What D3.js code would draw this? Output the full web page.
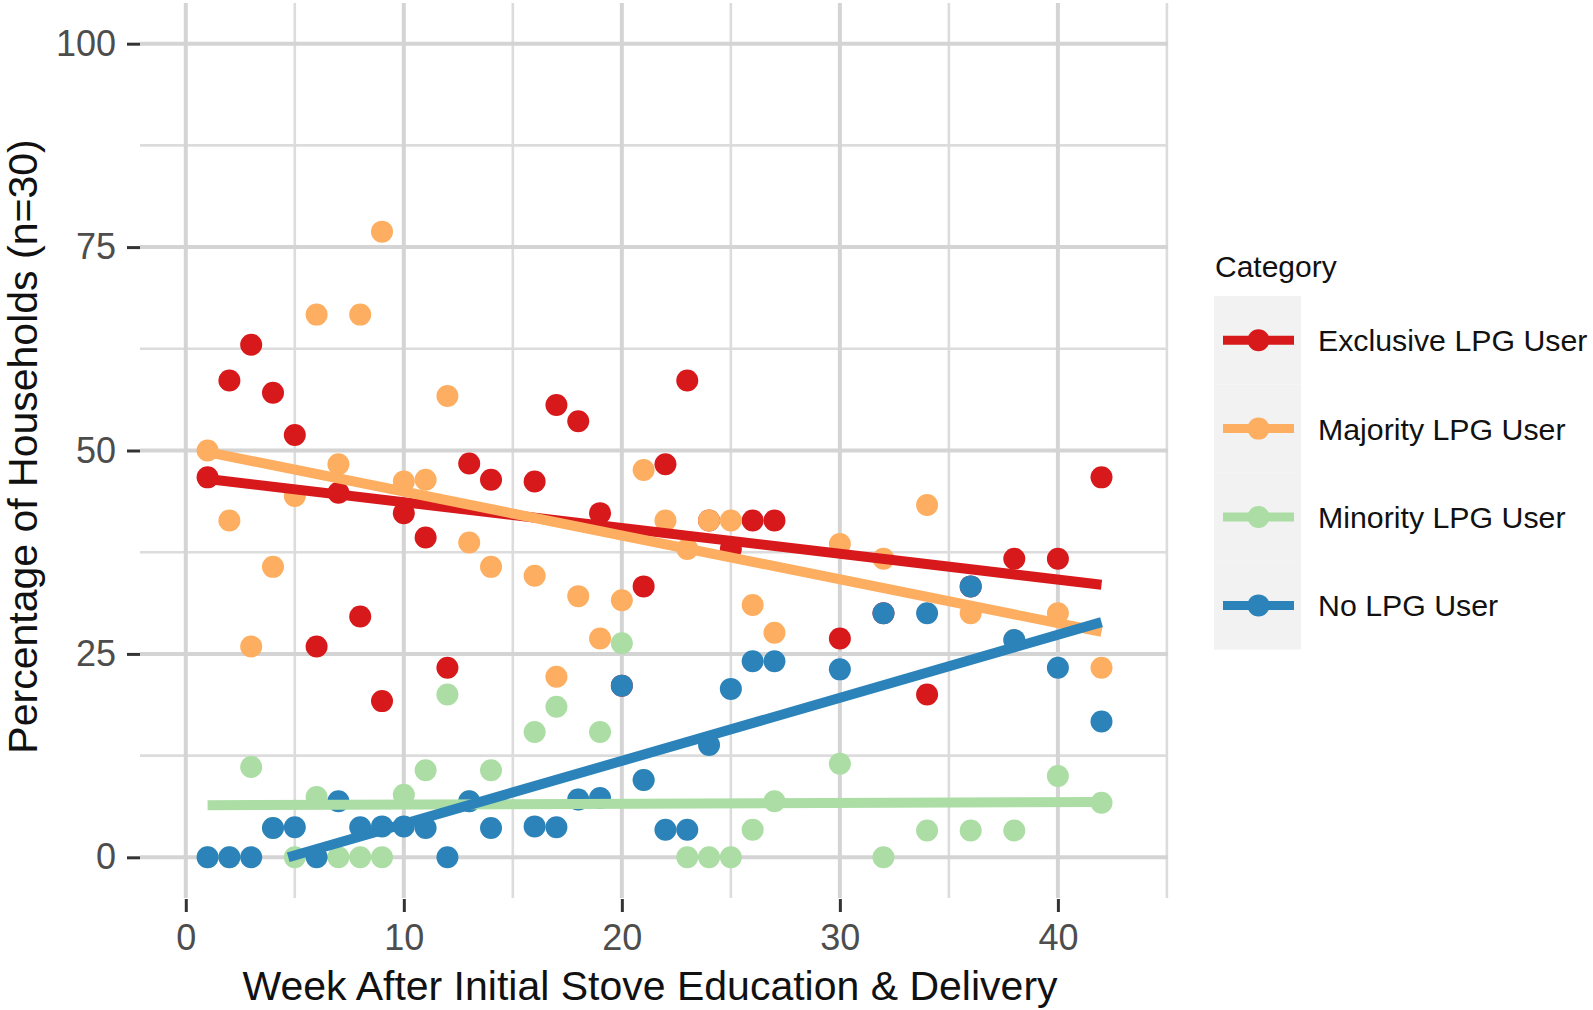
<!DOCTYPE html>
<html><head><meta charset="utf-8">
<script src="https://cdn.jsdelivr.net/npm/d3@7"></script>
<style>
body{margin:0;background:#fff}
svg text{font-family:"Liberation Sans",Arial,Helvetica,sans-serif}
</style>
</head><body>
<svg id="chart" width="1593" height="1010"></svg>
<script>
// ---- data ----
const weeks = [1,2,3,4,5,6,7,8,9,10,11,12,13,14,16,17,18,19,20,21,22,23,24,25,26,27,30,32,34,36,38,40,42];
const exclusive = [46.7,58.6,63.0,57.1,51.9,25.9,44.8,29.6,19.2,42.3,39.3,23.3,48.4,46.4,46.2,55.6,53.6,42.3,21.1,33.3,48.3,58.6,41.4,37.9,41.4,41.4,26.9,30.0,20.0,33.3,36.7,36.7,46.7];
const majority  = [50.0,41.4,25.9,35.7,44.4,66.7,48.3,66.7,76.9,46.2,46.4,56.7,38.7,35.7,34.6,22.2,32.1,26.9,31.6,47.6,41.4,37.9,41.4,41.4,31.0,27.6,38.5,36.7,43.3,30.0,26.7,30.0,23.3];
const minority  = [0,0,11.1,3.6,0,7.4,0,0,0,7.7,10.7,20.0,6.9,10.7,15.4,18.5,7.1,15.4,26.3,9.5,null,0,0,0,3.4,6.9,11.5,0,3.3,3.3,3.3,10.0,6.7];
const noLpg     = [0,0,0,3.6,3.7,0,6.9,3.7,3.8,3.8,3.6,0,6.9,3.6,3.8,3.7,7.1,7.3,21.1,9.5,3.4,3.4,13.8,20.7,24.1,24.1,23.1,30.0,30.0,33.3,26.7,23.3,16.7];
const categories = ["Exclusive LPG User","Majority LPG User","Minority LPG User","No LPG User"];
const colors = ["#d7191c","#fdae61","#abdda4","#2b83ba"];
// fitted linear trend end points
const fitStartWeek = [1,1,1,4.7];
const fitStartPct  = [46.5,49.8,6.4,0];
const fitEndWeek   = [42,42,42,42];
const fitEndPct    = [33.5,27.7,6.8,28.9];
const xMajor = [0,10,20,30,40], xMinor = [5,15,25,35,45];
const yMajor = [0,25,50,75,100], yMinor = [12.5,37.5,62.5,87.5];
const xTitle = "Week After Initial Stove Education & Delivery";
const yTitle = "Percentage of Households (n=30)";
const legendTitle = "Category";

const seriesValues = [exclusive, majority, minority, noLpg];

const svg = d3.select("#chart");
const P = {l:140, r:1168, t:3, b:898};
const x = d3.scaleLinear().domain([-2.1,45.05]).range([P.l,P.r]);
const y = d3.scaleLinear().domain([-5,105]).range([P.b,P.t]);

// grid
const grid = svg.append("g");
grid.selectAll(".vmin").data(xMinor).join("line")
  .attr("x1",d=>x(d)).attr("x2",d=>x(d)).attr("y1",P.t).attr("y2",P.b)
  .attr("stroke","#dcdcdc").attr("stroke-width",2.6);
grid.selectAll(".hmin").data(yMinor).join("line")
  .attr("y1",d=>y(d)).attr("y2",d=>y(d)).attr("x1",P.l).attr("x2",P.r)
  .attr("stroke","#dcdcdc").attr("stroke-width",2.6);
grid.selectAll(".vmaj").data(xMajor).join("line")
  .attr("x1",d=>x(d)).attr("x2",d=>x(d)).attr("y1",P.t).attr("y2",P.b)
  .attr("stroke","#d4d4d4").attr("stroke-width",4);
grid.selectAll(".hmaj").data(yMajor).join("line")
  .attr("y1",d=>y(d)).attr("y2",d=>y(d)).attr("x1",P.l).attr("x2",P.r)
  .attr("stroke","#d4d4d4").attr("stroke-width",4);

// points
const pts = svg.append("g");
seriesValues.forEach((vals,i)=>{
  const data = weeks.map((w,j)=>({w, v: vals[j]})).filter(d=>d.v!==null);
  pts.append("g").selectAll("circle").data(data).join("circle")
    .attr("cx",d=>x(d.w)).attr("cy",d=>y(d.v)).attr("r",11)
    .attr("fill",colors[i]);
});

// trend lines
const lines = svg.append("g");
categories.forEach((c,i)=>{
  lines.append("line")
    .attr("x1",x(fitStartWeek[i])).attr("y1",y(fitStartPct[i]))
    .attr("x2",x(fitEndWeek[i])).attr("y2",y(fitEndPct[i]))
    .attr("stroke",colors[i]).attr("stroke-width",10).attr("stroke-linecap","butt");
});

// axes
const yAxis = svg.append("g").attr("transform",`translate(${P.l},0)`)
  .call(d3.axisLeft(y).tickValues(yMajor).tickSize(13).tickPadding(11));
const xAxis = svg.append("g").attr("transform",`translate(0,${P.b+1})`)
  .call(d3.axisBottom(x).tickValues(xMajor).tickSize(13).tickPadding(12));
[yAxis,xAxis].forEach(a=>{
  a.select(".domain").remove();
  a.selectAll(".tick line").attr("stroke","#333").attr("stroke-width",3);
  a.selectAll(".tick text").attr("font-size",36).attr("fill","#4d4d4d")
    .attr("font-family",'"Liberation Sans",Arial,sans-serif');
});

// axis titles
svg.append("text").attr("x",(P.l+P.r)/2 - 4).attr("y",1000)
  .attr("text-anchor","middle").attr("font-size",41).attr("fill","#111").text(xTitle);
svg.append("text").attr("transform",`translate(37,${(P.t+P.b)/2 - 4}) rotate(-90)`)
  .attr("text-anchor","middle").attr("font-size",41).attr("fill","#111").text(yTitle);

// legend
const lg = svg.append("g");
lg.append("text").attr("x",1215).attr("y",277).attr("font-size",30).attr("fill","#111").text(legendTitle);
const keyX = 1214, keyW = 87, keyTop = 296, keyH = 88.4;
categories.forEach((c,i)=>{
  const cy = keyTop + keyH*i + keyH/2;
  lg.append("rect").attr("x",keyX).attr("y",keyTop+keyH*i).attr("width",keyW).attr("height",keyH)
    .attr("fill","#f2f2f2");
  lg.append("line").attr("x1",1223).attr("x2",1294).attr("y1",cy).attr("y2",cy)
    .attr("stroke",colors[i]).attr("stroke-width",9);
  lg.append("circle").attr("cx",1258.5).attr("cy",cy).attr("r",11).attr("fill",colors[i]);
  lg.append("text").attr("x",1318).attr("y",cy).attr("dy","0.36em")
    .attr("font-size",30.3).attr("fill","#111").text(c);
});
</script>
</body></html>
